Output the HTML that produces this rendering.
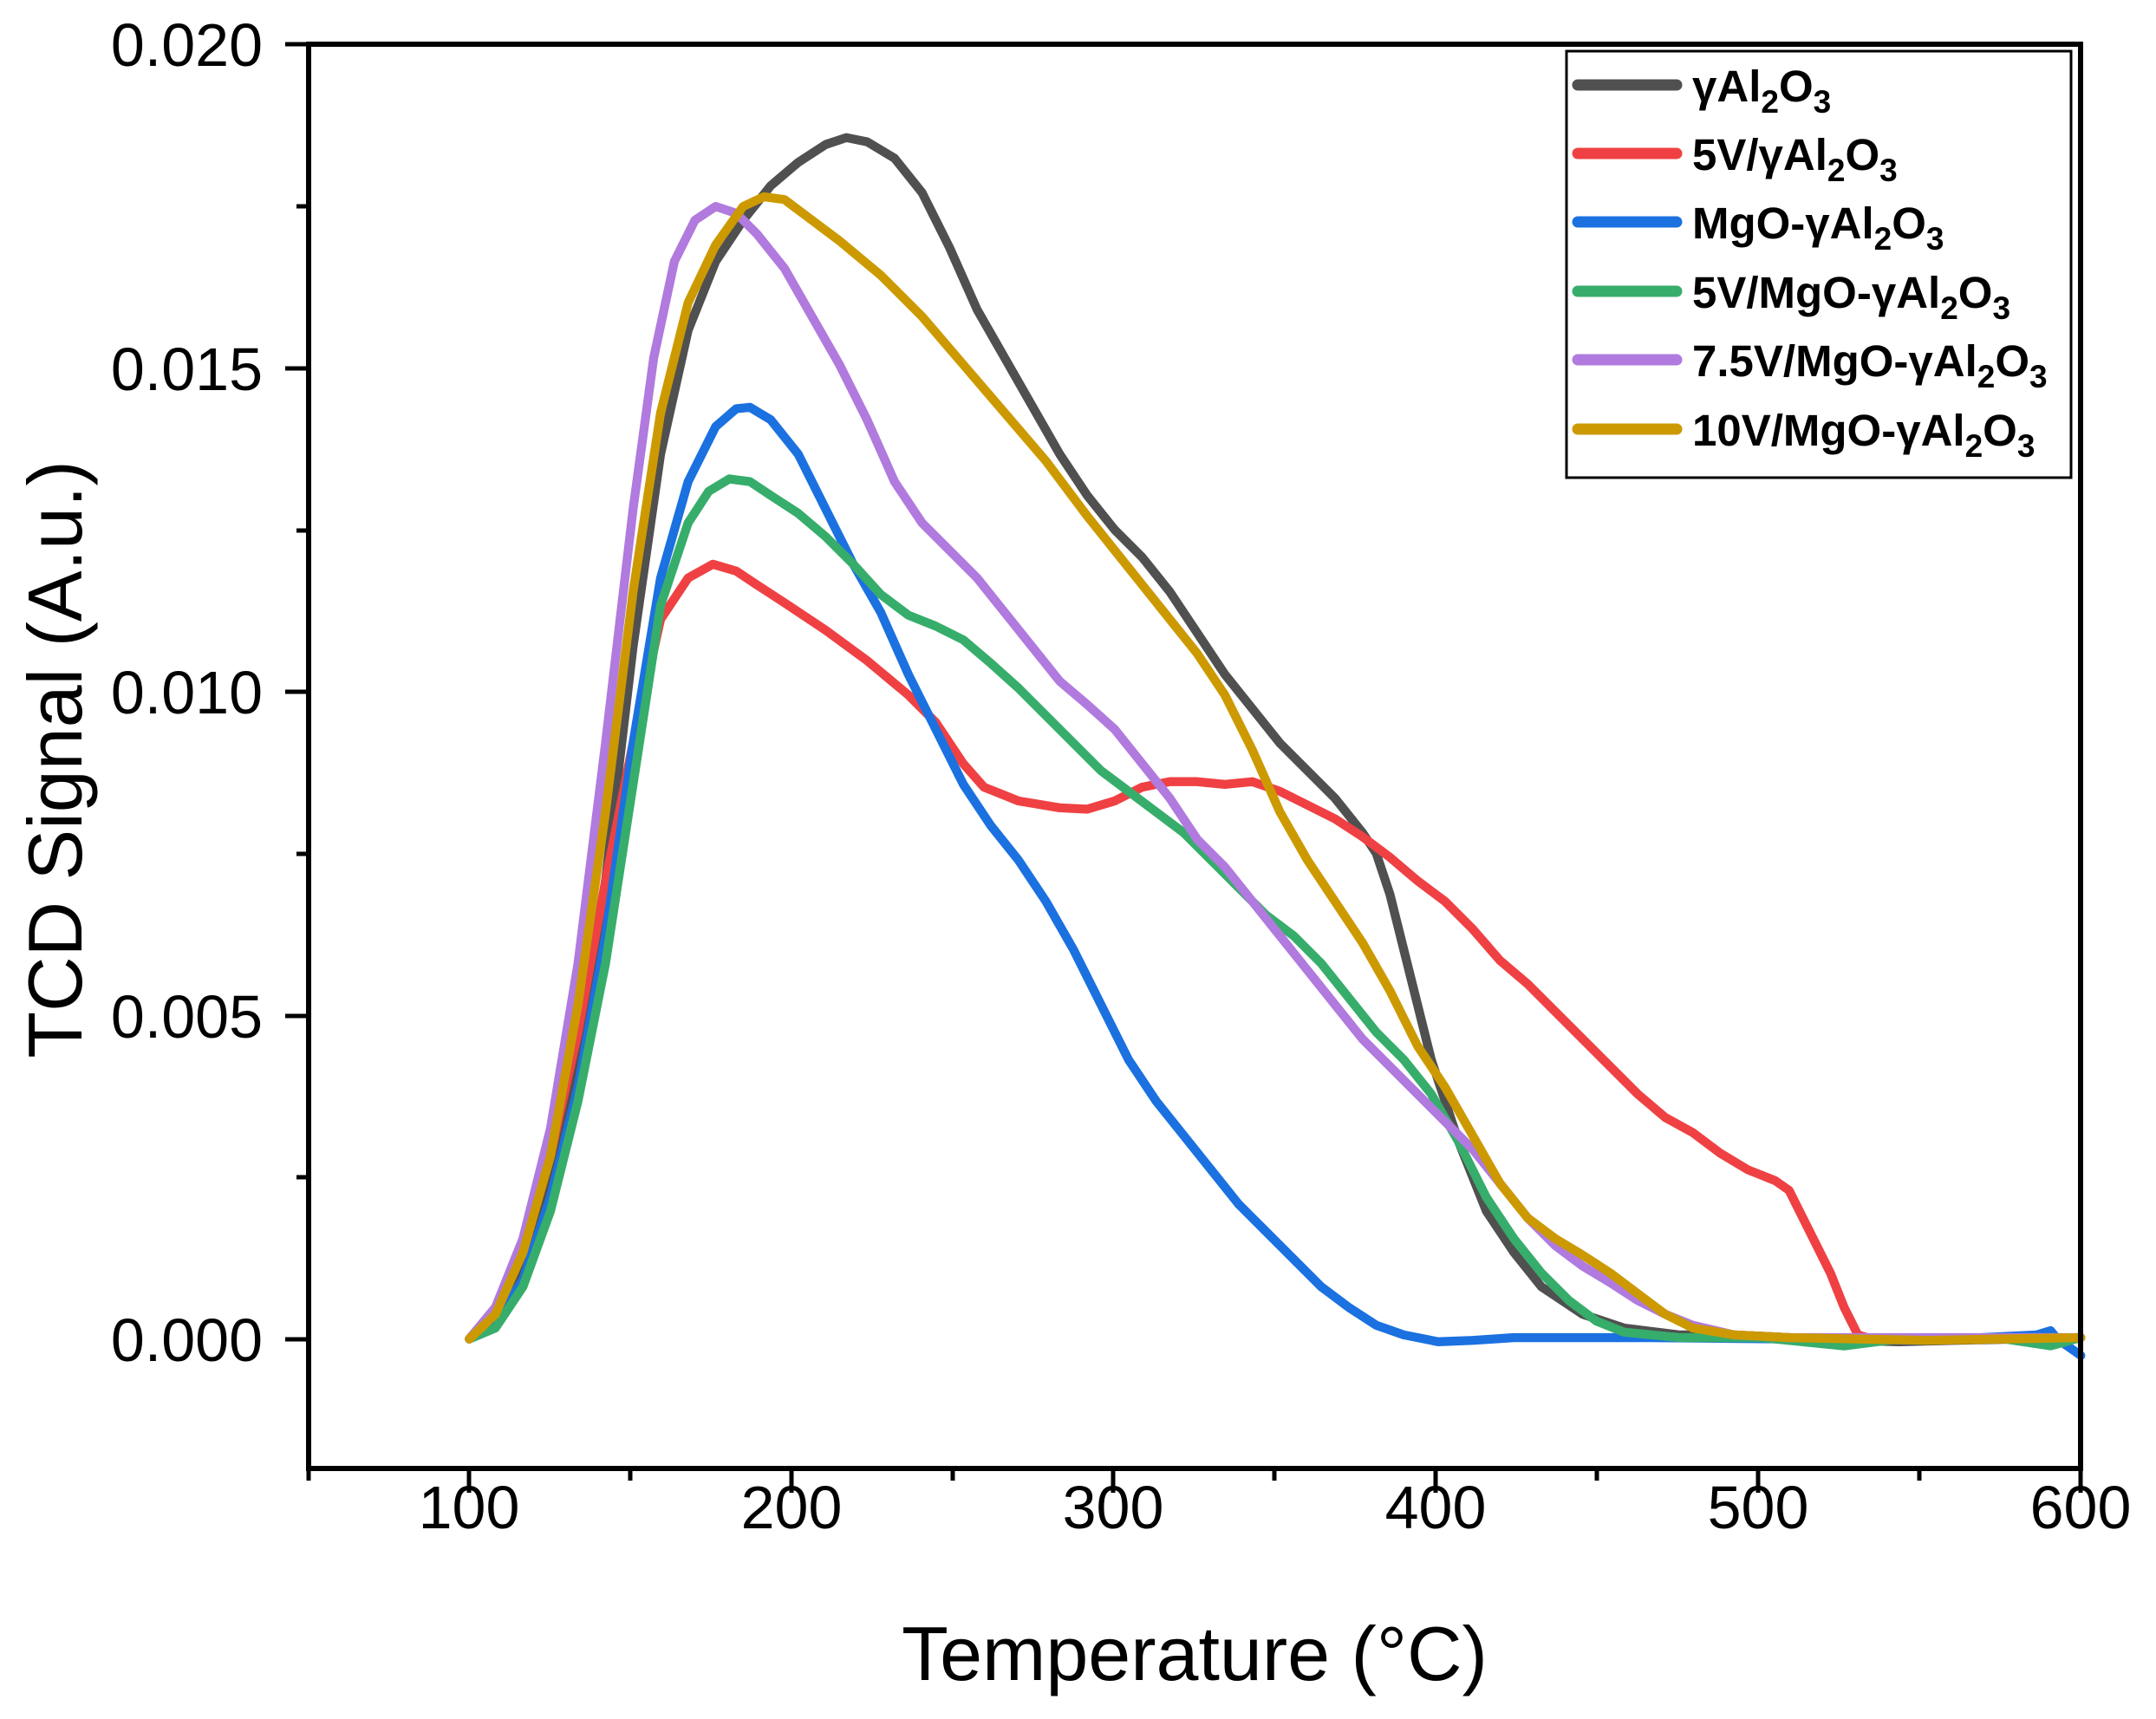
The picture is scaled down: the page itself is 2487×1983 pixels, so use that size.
<!DOCTYPE html>
<html><head><meta charset="utf-8"><style>html,body{margin:0;padding:0;background:#fff}svg{display:block}</style></head>
<body>
<svg width="2487" height="1983" viewBox="0 0 2487 1983" xmlns="http://www.w3.org/2000/svg" font-family="Liberation Sans, sans-serif">
<rect width="2487" height="1983" fill="#fff"/>
<g transform="scale(1.5875)" fill="none" stroke-width="6.5" stroke-linejoin="round" stroke-linecap="round">
<polyline stroke="#505050" points="341,973 360,955 380,920 400,860 420,770 440,640 460,470 480,330 500,240 520,190 540,160 560,135 580,118 600,105 615,100 630,103 650,115 670,140 690,180 710,225 730,260 750,295 770,330 790,360 810,385 830,405 850,430 870,460 890,490 910,515 930,540 950,560 970,580 990,605 1000,620 1010,650 1020,690 1030,730 1040,770 1060,830 1080,880 1100,910 1120,935 1150,955 1180,965 1220,970 1260,970 1300,972 1340,974 1380,975 1420,974 1512,972"/>
<polyline stroke="#ef4143" points="341,973 360,950 380,910 400,840 420,750 440,640 460,540 480,450 500,420 518,410 535,415 550,425 570,438 600,458 630,480 660,505 680,525 700,555 715,572 740,582 770,587 790,588 810,582 830,572 850,568 870,568 890,570 910,568 930,575 950,585 970,595 990,608 1010,623 1030,640 1050,655 1070,675 1090,698 1110,715 1130,735 1150,755 1170,775 1190,795 1210,812 1230,823 1250,838 1270,850 1290,858 1300,865 1310,885 1320,905 1330,925 1340,950 1350,970 1360,973 1440,973 1512,972"/>
<polyline stroke="#1b71e0" points="341,973 360,960 380,930 400,870 420,790 440,680 460,540 480,420 500,350 520,310 535,297 545,296 560,305 580,330 600,370 620,410 640,445 660,490 680,530 700,570 720,600 740,625 760,655 780,690 800,730 820,770 840,800 860,825 880,850 900,875 920,895 940,915 960,935 980,950 1000,963 1020,970 1045,975 1070,974 1100,972 1150,972 1200,972 1300,973 1400,974 1480,970 1490,967 1495,973 1512,985"/>
<polyline stroke="#37ad6b" points="341,973 360,965 380,935 400,880 420,800 440,700 460,570 480,440 500,380 515,357 530,348 545,350 560,360 580,373 600,390 620,410 640,432 660,447 680,455 700,465 720,482 740,500 760,520 780,540 800,560 820,575 840,590 860,605 880,625 900,645 920,665 940,680 960,700 980,725 1000,750 1020,770 1040,795 1060,830 1080,870 1100,900 1120,925 1140,945 1160,960 1180,968 1220,972 1280,972 1340,978 1380,973 1450,972 1490,978 1512,972"/>
<polyline stroke="#b07ade" points="341,973 360,950 380,900 400,820 420,700 440,540 460,370 475,260 490,190 505,160 520,150 535,155 550,170 570,195 590,230 610,265 630,305 650,350 670,380 690,400 710,420 730,445 750,470 770,495 790,512 810,530 830,555 850,580 870,610 890,630 910,655 930,680 950,705 970,730 990,755 1010,775 1030,795 1050,815 1070,835 1090,860 1110,885 1130,905 1150,920 1170,932 1190,945 1210,955 1230,963 1260,970 1300,972 1512,972"/>
<polyline stroke="#cc9a00" points="341,973 360,955 380,910 400,840 420,730 440,590 460,430 480,300 500,220 520,178 540,150 555,143 570,145 590,160 610,175 640,200 670,230 700,265 730,300 760,335 790,375 810,400 830,425 850,450 870,475 890,505 910,545 930,590 950,625 970,655 990,685 1010,720 1030,760 1050,790 1070,825 1090,860 1110,885 1130,900 1150,912 1170,925 1190,940 1210,955 1230,965 1260,970 1300,972 1400,974 1512,972"/>
</g>
<rect x="356" y="51" width="2044" height="1643" fill="none" stroke="#000" stroke-width="6"/>
<g stroke="#000" stroke-width="5">
<line x1="329" y1="51" x2="356" y2="51"/><line x1="342" y1="238" x2="356" y2="238"/>
<line x1="329" y1="425" x2="356" y2="425"/><line x1="342" y1="612" x2="356" y2="612"/>
<line x1="329" y1="798" x2="356" y2="798"/><line x1="342" y1="985" x2="356" y2="985"/>
<line x1="329" y1="1172" x2="356" y2="1172"/><line x1="342" y1="1358" x2="356" y2="1358"/>
<line x1="329" y1="1545" x2="356" y2="1545"/>
<line x1="356" y1="1694" x2="356" y2="1708"/>
<line x1="541" y1="1694" x2="541" y2="1722"/><line x1="727" y1="1694" x2="727" y2="1708"/>
<line x1="913" y1="1694" x2="913" y2="1722"/><line x1="1099" y1="1694" x2="1099" y2="1708"/>
<line x1="1284" y1="1694" x2="1284" y2="1722"/><line x1="1470" y1="1694" x2="1470" y2="1708"/>
<line x1="1656" y1="1694" x2="1656" y2="1722"/><line x1="1842" y1="1694" x2="1842" y2="1708"/>
<line x1="2028" y1="1694" x2="2028" y2="1722"/><line x1="2214" y1="1694" x2="2214" y2="1708"/>
<line x1="2400" y1="1694" x2="2400" y2="1722"/>
</g>
<g font-size="70" fill="#000" text-anchor="end">
<text x="303" y="76">0.020</text><text x="303" y="450">0.015</text>
<text x="303" y="823">0.010</text><text x="303" y="1197">0.005</text>
<text x="303" y="1570">0.000</text>
</g>
<g font-size="70" fill="#000" text-anchor="middle">
<text x="541" y="1763">100</text><text x="913" y="1763">200</text><text x="1284" y="1763">300</text>
<text x="1656" y="1763">400</text><text x="2028" y="1763">500</text><text x="2400" y="1763">600</text>
</g>
<text x="1378" y="1938" font-size="88" text-anchor="middle">Temperature (°C)</text>
<text transform="translate(94,876) rotate(-90)" font-size="88" text-anchor="middle">TCD Signal (A.u.)</text>
<rect x="1807" y="59" width="582" height="492" fill="#fff" stroke="#000" stroke-width="3"/>
<g stroke-width="13" stroke-linecap="round">
<line x1="1820" y1="98" x2="1934" y2="98" stroke="#505050"/>
<line x1="1820" y1="177" x2="1934" y2="177" stroke="#ef4143"/>
<line x1="1820" y1="256" x2="1934" y2="256" stroke="#1b71e0"/>
<line x1="1820" y1="336" x2="1934" y2="336" stroke="#37ad6b"/>
<line x1="1820" y1="415" x2="1934" y2="415" stroke="#b07ade"/>
<line x1="1820" y1="495" x2="1934" y2="495" stroke="#cc9a00"/>
</g>
<g font-size="51" font-weight="bold" fill="#000">
<text x="1952" y="117">γAl<tspan font-size="37" dy="13">2</tspan><tspan dy="-13">O</tspan><tspan font-size="37" dy="13">3</tspan></text>
<text x="1952" y="196">5V/γAl<tspan font-size="37" dy="13">2</tspan><tspan dy="-13">O</tspan><tspan font-size="37" dy="13">3</tspan></text>
<text x="1952" y="275">MgO-γAl<tspan font-size="37" dy="13">2</tspan><tspan dy="-13">O</tspan><tspan font-size="37" dy="13">3</tspan></text>
<text x="1952" y="355">5V/MgO-γAl<tspan font-size="37" dy="13">2</tspan><tspan dy="-13">O</tspan><tspan font-size="37" dy="13">3</tspan></text>
<text x="1952" y="434">7.5V/MgO-γAl<tspan font-size="37" dy="13">2</tspan><tspan dy="-13">O</tspan><tspan font-size="37" dy="13">3</tspan></text>
<text x="1952" y="514">10V/MgO-γAl<tspan font-size="37" dy="13">2</tspan><tspan dy="-13">O</tspan><tspan font-size="37" dy="13">3</tspan></text>
</g>
</svg>
</body></html>
